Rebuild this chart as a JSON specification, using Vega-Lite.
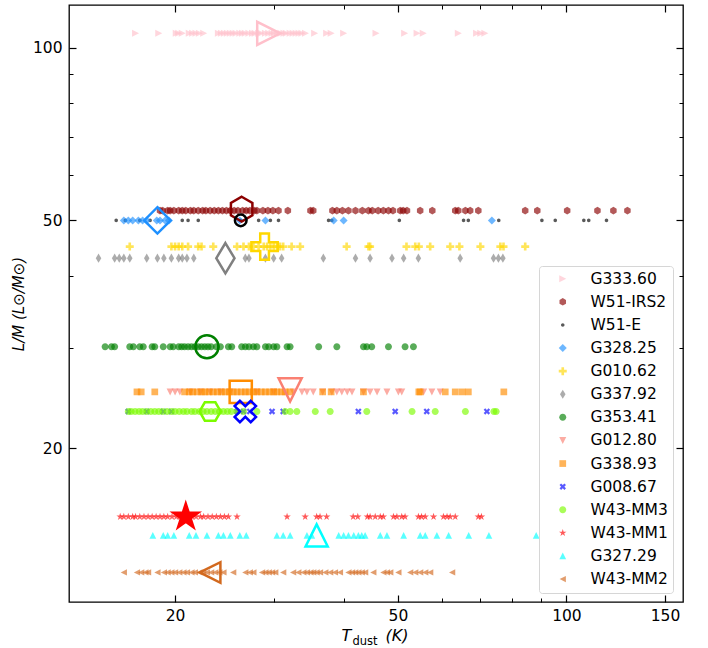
{
"$schema": "https://vega.github.io/schema/vega-lite/v6.json",
"width": 614, "height": 597,
"autosize": {"type": "none"},
"padding": {"left": 69, "top": 5, "right": 25, "bottom": 46},
"background": "white",
"config": {"font": "DejaVu Sans", "view": {"stroke": "black", "strokeWidth": 1.3}},
"datasets": {
"pts": [
{"source":"G333.60","T":17.0,"LM":106},{"source":"G333.60","T":18.7,"LM":106},{"source":"G333.60","T":20.1,"LM":106},{"source":"G333.60","T":20.3,"LM":106},{"source":"G333.60","T":20.6,"LM":106},{"source":"G333.60","T":21.2,"LM":106},{"source":"G333.60","T":21.5,"LM":106},{"source":"G333.60","T":21.8,"LM":106},{"source":"G333.60","T":22.1,"LM":106},{"source":"G333.60","T":22.5,"LM":106},{"source":"G333.60","T":23.9,"LM":106},{"source":"G333.60","T":24.2,"LM":106},{"source":"G333.60","T":24.5,"LM":106},{"source":"G333.60","T":24.8,"LM":106},{"source":"G333.60","T":25.1,"LM":106},{"source":"G333.60","T":25.4,"LM":106},{"source":"G333.60","T":25.7,"LM":106},{"source":"G333.60","T":26.1,"LM":106},{"source":"G333.60","T":26.4,"LM":106},{"source":"G333.60","T":26.7,"LM":106},{"source":"G333.60","T":27.1,"LM":106},{"source":"G333.60","T":27.5,"LM":106},{"source":"G333.60","T":27.8,"LM":106},{"source":"G333.60","T":28.2,"LM":106},{"source":"G333.60","T":28.5,"LM":106},{"source":"G333.60","T":29.0,"LM":106},{"source":"G333.60","T":29.4,"LM":106},{"source":"G333.60","T":29.8,"LM":106},{"source":"G333.60","T":30.1,"LM":106},{"source":"G333.60","T":30.5,"LM":106},{"source":"G333.60","T":30.9,"LM":106},{"source":"G333.60","T":31.3,"LM":106},{"source":"G333.60","T":31.6,"LM":106},{"source":"G333.60","T":32.1,"LM":106},{"source":"G333.60","T":32.5,"LM":106},{"source":"G333.60","T":32.9,"LM":106},{"source":"G333.60","T":33.3,"LM":106},{"source":"G333.60","T":33.7,"LM":106},{"source":"G333.60","T":34.2,"LM":106},{"source":"G333.60","T":35.5,"LM":106},{"source":"G333.60","T":37.3,"LM":106},{"source":"G333.60","T":38.0,"LM":106},{"source":"G333.60","T":40.0,"LM":106},{"source":"G333.60","T":45.7,"LM":106},{"source":"G333.60","T":51.4,"LM":106},{"source":"G333.60","T":54.1,"LM":106},{"source":"G333.60","T":55.5,"LM":106},{"source":"G333.60","T":64.1,"LM":106},{"source":"G333.60","T":69.1,"LM":106},{"source":"G333.60","T":70.3,"LM":106},{"source":"G333.60","T":71.5,"LM":106},
{"source":"W51-IRS2","T":18.8,"LM":52.0},{"source":"W51-IRS2","T":19.0,"LM":52.0},{"source":"W51-IRS2","T":19.4,"LM":52.0},{"source":"W51-IRS2","T":19.6,"LM":52.0},{"source":"W51-IRS2","T":19.9,"LM":52.0},{"source":"W51-IRS2","T":20.3,"LM":52.0},{"source":"W51-IRS2","T":20.6,"LM":52.0},{"source":"W51-IRS2","T":20.9,"LM":52.0},{"source":"W51-IRS2","T":21.3,"LM":52.0},{"source":"W51-IRS2","T":21.6,"LM":52.0},{"source":"W51-IRS2","T":22.0,"LM":52.0},{"source":"W51-IRS2","T":22.4,"LM":52.0},{"source":"W51-IRS2","T":22.7,"LM":52.0},{"source":"W51-IRS2","T":23.1,"LM":52.0},{"source":"W51-IRS2","T":23.5,"LM":52.0},{"source":"W51-IRS2","T":23.9,"LM":52.0},{"source":"W51-IRS2","T":24.3,"LM":52.0},{"source":"W51-IRS2","T":24.7,"LM":52.0},{"source":"W51-IRS2","T":25.1,"LM":52.0},{"source":"W51-IRS2","T":25.5,"LM":52.0},{"source":"W51-IRS2","T":25.9,"LM":52.0},{"source":"W51-IRS2","T":26.4,"LM":52.0},{"source":"W51-IRS2","T":26.8,"LM":52.0},{"source":"W51-IRS2","T":27.2,"LM":52.0},{"source":"W51-IRS2","T":27.7,"LM":52.0},{"source":"W51-IRS2","T":28.0,"LM":52.0},{"source":"W51-IRS2","T":28.7,"LM":52.0},{"source":"W51-IRS2","T":29.3,"LM":52.0},{"source":"W51-IRS2","T":29.9,"LM":52.0},{"source":"W51-IRS2","T":30.6,"LM":52.0},{"source":"W51-IRS2","T":31.8,"LM":52.0},{"source":"W51-IRS2","T":34.9,"LM":52.0},{"source":"W51-IRS2","T":35.3,"LM":52.0},{"source":"W51-IRS2","T":38.2,"LM":52.0},{"source":"W51-IRS2","T":38.9,"LM":52.0},{"source":"W51-IRS2","T":39.8,"LM":52.0},{"source":"W51-IRS2","T":40.8,"LM":52.0},{"source":"W51-IRS2","T":42.0,"LM":52.0},{"source":"W51-IRS2","T":43.2,"LM":52.0},{"source":"W51-IRS2","T":44.3,"LM":52.0},{"source":"W51-IRS2","T":45.0,"LM":52.0},{"source":"W51-IRS2","T":46.1,"LM":52.0},{"source":"W51-IRS2","T":47.1,"LM":52.0},{"source":"W51-IRS2","T":48.1,"LM":52.0},{"source":"W51-IRS2","T":49.0,"LM":52.0},{"source":"W51-IRS2","T":50.5,"LM":52.0},{"source":"W51-IRS2","T":51.1,"LM":52.0},{"source":"W51-IRS2","T":51.9,"LM":52.0},{"source":"W51-IRS2","T":54.8,"LM":52.0},{"source":"W51-IRS2","T":57.6,"LM":52.0},{"source":"W51-IRS2","T":63.3,"LM":52.0},{"source":"W51-IRS2","T":64.1,"LM":52.0},{"source":"W51-IRS2","T":66.0,"LM":52.0},{"source":"W51-IRS2","T":67.3,"LM":52.0},{"source":"W51-IRS2","T":69.6,"LM":52.0},{"source":"W51-IRS2","T":84.4,"LM":52.0},{"source":"W51-IRS2","T":88.7,"LM":52.0},{"source":"W51-IRS2","T":100.3,"LM":52.0},{"source":"W51-IRS2","T":113.6,"LM":52.0},{"source":"W51-IRS2","T":121.3,"LM":52.0},{"source":"W51-IRS2","T":128.5,"LM":52.0},
{"source":"W51-E","T":15.7,"LM":50},{"source":"W51-E","T":16.3,"LM":50},{"source":"W51-E","T":17.3,"LM":50},{"source":"W51-E","T":18.05,"LM":50},{"source":"W51-E","T":20.6,"LM":50},{"source":"W51-E","T":21.1,"LM":50},{"source":"W51-E","T":22.0,"LM":50},{"source":"W51-E","T":26.2,"LM":50},{"source":"W51-E","T":28.2,"LM":50},{"source":"W51-E","T":29.6,"LM":50},{"source":"W51-E","T":30.6,"LM":50},{"source":"W51-E","T":37.6,"LM":50},{"source":"W51-E","T":38.1,"LM":50},{"source":"W51-E","T":50.3,"LM":50},{"source":"W51-E","T":65.5,"LM":50},{"source":"W51-E","T":66.8,"LM":50},{"source":"W51-E","T":75.7,"LM":50},{"source":"W51-E","T":90.4,"LM":50},{"source":"W51-E","T":95.5,"LM":50},{"source":"W51-E","T":107.4,"LM":50},{"source":"W51-E","T":109.6,"LM":50},{"source":"W51-E","T":117.9,"LM":50},
{"source":"G328.25","T":16.2,"LM":50},{"source":"G328.25","T":16.5,"LM":50},{"source":"G328.25","T":16.8,"LM":50},{"source":"G328.25","T":17.2,"LM":50},{"source":"G328.25","T":17.5,"LM":50},{"source":"G328.25","T":17.8,"LM":50},{"source":"G328.25","T":18.55,"LM":50},{"source":"G328.25","T":18.8,"LM":50},{"source":"G328.25","T":19.2,"LM":50},{"source":"G328.25","T":19.5,"LM":50},{"source":"G328.25","T":26.1,"LM":50},{"source":"G328.25","T":29.0,"LM":50},{"source":"G328.25","T":38.4,"LM":50},{"source":"G328.25","T":40.0,"LM":50},{"source":"G328.25","T":73.6,"LM":50},
{"source":"G010.62","T":16.6,"LM":45.0},{"source":"G010.62","T":19.7,"LM":45.0},{"source":"G010.62","T":20.0,"LM":45.0},{"source":"G010.62","T":20.3,"LM":45.0},{"source":"G010.62","T":20.6,"LM":45.0},{"source":"G010.62","T":21.1,"LM":45.0},{"source":"G010.62","T":22.0,"LM":45.0},{"source":"G010.62","T":22.3,"LM":45.0},{"source":"G010.62","T":23.4,"LM":45.0},{"source":"G010.62","T":25.8,"LM":45.0},{"source":"G010.62","T":26.5,"LM":45.0},{"source":"G010.62","T":27.1,"LM":45.0},{"source":"G010.62","T":27.6,"LM":45.0},{"source":"G010.62","T":28.2,"LM":45.0},{"source":"G010.62","T":28.8,"LM":45.0},{"source":"G010.62","T":29.2,"LM":45.0},{"source":"G010.62","T":29.6,"LM":45.0},{"source":"G010.62","T":30.0,"LM":45.0},{"source":"G010.62","T":30.4,"LM":45.0},{"source":"G010.62","T":30.8,"LM":45.0},{"source":"G010.62","T":31.2,"LM":45.0},{"source":"G010.62","T":32.3,"LM":45.0},{"source":"G010.62","T":33.45,"LM":45.0},{"source":"G010.62","T":40.5,"LM":45.0},{"source":"G010.62","T":44.3,"LM":45.0},{"source":"G010.62","T":44.6,"LM":45.0},{"source":"G010.62","T":51.8,"LM":45.0},{"source":"G010.62","T":53.7,"LM":45.0},{"source":"G010.62","T":54.5,"LM":45.0},{"source":"G010.62","T":57.1,"LM":45.0},{"source":"G010.62","T":62.0,"LM":45.0},{"source":"G010.62","T":64.4,"LM":45.0},{"source":"G010.62","T":70.2,"LM":45.0},{"source":"G010.62","T":76.2,"LM":45.0},{"source":"G010.62","T":77.2,"LM":45.0},{"source":"G010.62","T":84.4,"LM":45.0},
{"source":"G337.92","T":14.6,"LM":42.95},{"source":"G337.92","T":15.6,"LM":42.95},{"source":"G337.92","T":15.9,"LM":42.95},{"source":"G337.92","T":16.2,"LM":42.95},{"source":"G337.92","T":16.6,"LM":42.95},{"source":"G337.92","T":17.8,"LM":42.95},{"source":"G337.92","T":18.6,"LM":42.95},{"source":"G337.92","T":19.1,"LM":42.95},{"source":"G337.92","T":19.7,"LM":42.95},{"source":"G337.92","T":20.3,"LM":42.95},{"source":"G337.92","T":20.6,"LM":42.95},{"source":"G337.92","T":21.0,"LM":42.95},{"source":"G337.92","T":21.6,"LM":42.95},{"source":"G337.92","T":26.7,"LM":42.95},{"source":"G337.92","T":27.1,"LM":42.95},{"source":"G337.92","T":29.0,"LM":42.95},{"source":"G337.92","T":30.0,"LM":42.95},{"source":"G337.92","T":31.0,"LM":42.95},{"source":"G337.92","T":36.8,"LM":42.95},{"source":"G337.92","T":42.0,"LM":42.95},{"source":"G337.92","T":44.6,"LM":42.95},{"source":"G337.92","T":48.8,"LM":42.95},{"source":"G337.92","T":51.2,"LM":42.95},{"source":"G337.92","T":54.4,"LM":42.95},{"source":"G337.92","T":64.6,"LM":42.95},{"source":"G337.92","T":74.1,"LM":42.95},{"source":"G337.92","T":75.6,"LM":42.95},{"source":"G337.92","T":77.0,"LM":42.95},
{"source":"G353.41","T":15.0,"LM":30.1},{"source":"G353.41","T":15.4,"LM":30.1},{"source":"G353.41","T":15.6,"LM":30.1},{"source":"G353.41","T":16.6,"LM":30.1},{"source":"G353.41","T":16.85,"LM":30.1},{"source":"G353.41","T":17.3,"LM":30.1},{"source":"G353.41","T":17.55,"LM":30.1},{"source":"G353.41","T":18.2,"LM":30.1},{"source":"G353.41","T":18.4,"LM":30.1},{"source":"G353.41","T":19.05,"LM":30.1},{"source":"G353.41","T":19.6,"LM":30.1},{"source":"G353.41","T":19.85,"LM":30.1},{"source":"G353.41","T":20.3,"LM":30.1},{"source":"G353.41","T":20.55,"LM":30.1},{"source":"G353.41","T":20.8,"LM":30.1},{"source":"G353.41","T":21.1,"LM":30.1},{"source":"G353.41","T":21.4,"LM":30.1},{"source":"G353.41","T":21.7,"LM":30.1},{"source":"G353.41","T":22.0,"LM":30.1},{"source":"G353.41","T":22.3,"LM":30.1},{"source":"G353.41","T":22.6,"LM":30.1},{"source":"G353.41","T":22.9,"LM":30.1},{"source":"G353.41","T":23.2,"LM":30.1},{"source":"G353.41","T":23.7,"LM":30.1},{"source":"G353.41","T":24.1,"LM":30.1},{"source":"G353.41","T":24.9,"LM":30.1},{"source":"G353.41","T":25.25,"LM":30.1},{"source":"G353.41","T":26.3,"LM":30.1},{"source":"G353.41","T":26.7,"LM":30.1},{"source":"G353.41","T":27.1,"LM":30.1},{"source":"G353.41","T":27.6,"LM":30.1},{"source":"G353.41","T":28.0,"LM":30.1},{"source":"G353.41","T":29.0,"LM":30.1},{"source":"G353.41","T":29.4,"LM":30.1},{"source":"G353.41","T":30.0,"LM":30.1},{"source":"G353.41","T":30.4,"LM":30.1},{"source":"G353.41","T":31.7,"LM":30.1},{"source":"G353.41","T":32.1,"LM":30.1},{"source":"G353.41","T":36.1,"LM":30.1},{"source":"G353.41","T":38.9,"LM":30.1},{"source":"G353.41","T":43.4,"LM":30.1},{"source":"G353.41","T":44.0,"LM":30.1},{"source":"G353.41","T":44.9,"LM":30.1},{"source":"G353.41","T":48.1,"LM":30.1},{"source":"G353.41","T":51.5,"LM":30.1},{"source":"G353.41","T":53.3,"LM":30.1},
{"source":"G012.80","T":19.6,"LM":25.1},{"source":"G012.80","T":20.0,"LM":25.1},{"source":"G012.80","T":20.4,"LM":25.1},{"source":"G012.80","T":21.3,"LM":25.1},{"source":"G012.80","T":22.2,"LM":25.1},{"source":"G012.80","T":23.1,"LM":25.1},{"source":"G012.80","T":24.1,"LM":25.1},{"source":"G012.80","T":25.1,"LM":25.1},{"source":"G012.80","T":28.0,"LM":25.1},{"source":"G012.80","T":30.0,"LM":25.1},{"source":"G012.80","T":32.5,"LM":25.1},{"source":"G012.80","T":33.7,"LM":25.1},{"source":"G012.80","T":34.4,"LM":25.1},{"source":"G012.80","T":35.3,"LM":25.1},{"source":"G012.80","T":36.7,"LM":25.1},{"source":"G012.80","T":38.1,"LM":25.1},{"source":"G012.80","T":38.9,"LM":25.1},{"source":"G012.80","T":39.7,"LM":25.1},{"source":"G012.80","T":40.6,"LM":25.1},{"source":"G012.80","T":41.4,"LM":25.1},{"source":"G012.80","T":43.4,"LM":25.1},{"source":"G012.80","T":44.6,"LM":25.1},{"source":"G012.80","T":45.9,"LM":25.1},{"source":"G012.80","T":47.8,"LM":25.1},{"source":"G012.80","T":50.1,"LM":25.1},{"source":"G012.80","T":50.8,"LM":25.1},{"source":"G012.80","T":55.6,"LM":25.1},{"source":"G012.80","T":57.5,"LM":25.1},{"source":"G012.80","T":59.5,"LM":25.1},
{"source":"G338.93","T":17.1,"LM":25.1},{"source":"G338.93","T":17.4,"LM":25.1},{"source":"G338.93","T":18.4,"LM":25.1},{"source":"G338.93","T":20.8,"LM":25.1},{"source":"G338.93","T":21.2,"LM":25.1},{"source":"G338.93","T":21.5,"LM":25.1},{"source":"G338.93","T":21.9,"LM":25.1},{"source":"G338.93","T":22.3,"LM":25.1},{"source":"G338.93","T":22.6,"LM":25.1},{"source":"G338.93","T":23.0,"LM":25.1},{"source":"G338.93","T":23.4,"LM":25.1},{"source":"G338.93","T":23.8,"LM":25.1},{"source":"G338.93","T":24.2,"LM":25.1},{"source":"G338.93","T":24.6,"LM":25.1},{"source":"G338.93","T":25.0,"LM":25.1},{"source":"G338.93","T":25.4,"LM":25.1},{"source":"G338.93","T":25.8,"LM":25.1},{"source":"G338.93","T":26.25,"LM":25.1},{"source":"G338.93","T":26.7,"LM":25.1},{"source":"G338.93","T":27.1,"LM":25.1},{"source":"G338.93","T":27.6,"LM":25.1},{"source":"G338.93","T":28.0,"LM":25.1},{"source":"G338.93","T":28.5,"LM":25.1},{"source":"G338.93","T":29.0,"LM":25.1},{"source":"G338.93","T":29.5,"LM":25.1},{"source":"G338.93","T":30.0,"LM":25.1},{"source":"G338.93","T":30.4,"LM":25.1},{"source":"G338.93","T":31.0,"LM":25.1},{"source":"G338.93","T":31.45,"LM":25.1},{"source":"G338.93","T":32.1,"LM":25.1},{"source":"G338.93","T":36.7,"LM":25.1},{"source":"G338.93","T":38.0,"LM":25.1},{"source":"G338.93","T":43.4,"LM":25.1},{"source":"G338.93","T":54.5,"LM":25.1},{"source":"G338.93","T":54.8,"LM":25.1},{"source":"G338.93","T":60.75,"LM":25.1},{"source":"G338.93","T":63.3,"LM":25.1},{"source":"G338.93","T":65.1,"LM":25.1},{"source":"G338.93","T":66.8,"LM":25.1},{"source":"G338.93","T":77.3,"LM":25.1},
{"source":"G008.67","T":16.5,"LM":23.2},{"source":"G008.67","T":17.8,"LM":23.2},{"source":"G008.67","T":19.05,"LM":23.2},{"source":"G008.67","T":19.7,"LM":23.2},{"source":"G008.67","T":25.8,"LM":23.2},{"source":"G008.67","T":26.5,"LM":23.2},{"source":"G008.67","T":27.2,"LM":23.2},{"source":"G008.67","T":29.8,"LM":23.2},{"source":"G008.67","T":31.2,"LM":23.2},{"source":"G008.67","T":42.5,"LM":23.2},{"source":"G008.67","T":49.45,"LM":23.2},{"source":"G008.67","T":56.3,"LM":23.2},{"source":"G008.67","T":72.1,"LM":23.2},
{"source":"W43-MM3","T":16.5,"LM":23.2},{"source":"W43-MM3","T":16.7,"LM":23.2},{"source":"W43-MM3","T":16.97,"LM":23.2},{"source":"W43-MM3","T":17.25,"LM":23.2},{"source":"W43-MM3","T":17.5,"LM":23.2},{"source":"W43-MM3","T":17.8,"LM":23.2},{"source":"W43-MM3","T":18.1,"LM":23.2},{"source":"W43-MM3","T":18.4,"LM":23.2},{"source":"W43-MM3","T":18.7,"LM":23.2},{"source":"W43-MM3","T":19.0,"LM":23.2},{"source":"W43-MM3","T":19.35,"LM":23.2},{"source":"W43-MM3","T":19.7,"LM":23.2},{"source":"W43-MM3","T":20.0,"LM":23.2},{"source":"W43-MM3","T":20.35,"LM":23.2},{"source":"W43-MM3","T":20.7,"LM":23.2},{"source":"W43-MM3","T":21.0,"LM":23.2},{"source":"W43-MM3","T":21.4,"LM":23.2},{"source":"W43-MM3","T":21.7,"LM":23.2},{"source":"W43-MM3","T":22.1,"LM":23.2},{"source":"W43-MM3","T":22.45,"LM":23.2},{"source":"W43-MM3","T":22.8,"LM":23.2},{"source":"W43-MM3","T":23.2,"LM":23.2},{"source":"W43-MM3","T":23.6,"LM":23.2},{"source":"W43-MM3","T":24.0,"LM":23.2},{"source":"W43-MM3","T":24.4,"LM":23.2},{"source":"W43-MM3","T":24.8,"LM":23.2},{"source":"W43-MM3","T":25.2,"LM":23.2},{"source":"W43-MM3","T":25.8,"LM":23.2},{"source":"W43-MM3","T":26.5,"LM":23.2},{"source":"W43-MM3","T":28.0,"LM":23.2},{"source":"W43-MM3","T":31.45,"LM":23.2},{"source":"W43-MM3","T":32.1,"LM":23.2},{"source":"W43-MM3","T":33.0,"LM":23.2},{"source":"W43-MM3","T":35.6,"LM":23.2},{"source":"W43-MM3","T":37.85,"LM":23.2},{"source":"W43-MM3","T":44.0,"LM":23.2},{"source":"W43-MM3","T":53.0,"LM":23.2},{"source":"W43-MM3","T":58.3,"LM":23.2},{"source":"W43-MM3","T":66.0,"LM":23.2},{"source":"W43-MM3","T":74.2,"LM":23.2},{"source":"W43-MM3","T":74.9,"LM":23.2},
{"source":"W43-MM1","T":15.96,"LM":15.2},{"source":"W43-MM1","T":16.2,"LM":15.2},{"source":"W43-MM1","T":16.5,"LM":15.2},{"source":"W43-MM1","T":16.8,"LM":15.2},{"source":"W43-MM1","T":17.0,"LM":15.2},{"source":"W43-MM1","T":17.3,"LM":15.2},{"source":"W43-MM1","T":17.6,"LM":15.2},{"source":"W43-MM1","T":17.9,"LM":15.2},{"source":"W43-MM1","T":18.2,"LM":15.2},{"source":"W43-MM1","T":18.5,"LM":15.2},{"source":"W43-MM1","T":18.8,"LM":15.2},{"source":"W43-MM1","T":19.1,"LM":15.2},{"source":"W43-MM1","T":19.4,"LM":15.2},{"source":"W43-MM1","T":19.75,"LM":15.2},{"source":"W43-MM1","T":20.1,"LM":15.2},{"source":"W43-MM1","T":20.4,"LM":15.2},{"source":"W43-MM1","T":20.75,"LM":15.2},{"source":"W43-MM1","T":21.1,"LM":15.2},{"source":"W43-MM1","T":21.45,"LM":15.2},{"source":"W43-MM1","T":21.8,"LM":15.2},{"source":"W43-MM1","T":22.2,"LM":15.2},{"source":"W43-MM1","T":22.5,"LM":15.2},{"source":"W43-MM1","T":22.9,"LM":15.2},{"source":"W43-MM1","T":23.3,"LM":15.2},{"source":"W43-MM1","T":23.7,"LM":15.2},{"source":"W43-MM1","T":24.1,"LM":15.2},{"source":"W43-MM1","T":24.5,"LM":15.2},{"source":"W43-MM1","T":24.9,"LM":15.2},{"source":"W43-MM1","T":25.8,"LM":15.2},{"source":"W43-MM1","T":31.7,"LM":15.2},{"source":"W43-MM1","T":34.15,"LM":15.2},{"source":"W43-MM1","T":35.8,"LM":15.2},{"source":"W43-MM1","T":36.3,"LM":15.2},{"source":"W43-MM1","T":37.3,"LM":15.2},{"source":"W43-MM1","T":41.6,"LM":15.2},{"source":"W43-MM1","T":42.4,"LM":15.2},{"source":"W43-MM1","T":44.1,"LM":15.2},{"source":"W43-MM1","T":44.6,"LM":15.2},{"source":"W43-MM1","T":45.55,"LM":15.2},{"source":"W43-MM1","T":46.5,"LM":15.2},{"source":"W43-MM1","T":47.1,"LM":15.2},{"source":"W43-MM1","T":49.1,"LM":15.2},{"source":"W43-MM1","T":49.8,"LM":15.2},{"source":"W43-MM1","T":50.8,"LM":15.2},{"source":"W43-MM1","T":51.5,"LM":15.2},{"source":"W43-MM1","T":54.4,"LM":15.2},{"source":"W43-MM1","T":55.1,"LM":15.2},{"source":"W43-MM1","T":55.95,"LM":15.2},{"source":"W43-MM1","T":57.9,"LM":15.2},{"source":"W43-MM1","T":60.3,"LM":15.2},{"source":"W43-MM1","T":61.2,"LM":15.2},{"source":"W43-MM1","T":62.0,"LM":15.2},{"source":"W43-MM1","T":63.3,"LM":15.2},{"source":"W43-MM1","T":69.6,"LM":15.2},{"source":"W43-MM1","T":70.5,"LM":15.2},
{"source":"G327.29","T":18.25,"LM":14.1},{"source":"G327.29","T":19.05,"LM":14.1},{"source":"G327.29","T":19.4,"LM":14.1},{"source":"G327.29","T":19.9,"LM":14.1},{"source":"G327.29","T":21.2,"LM":14.1},{"source":"G327.29","T":21.8,"LM":14.1},{"source":"G327.29","T":22.8,"LM":14.1},{"source":"G327.29","T":23.9,"LM":14.1},{"source":"G327.29","T":24.4,"LM":14.1},{"source":"G327.29","T":25.1,"LM":14.1},{"source":"G327.29","T":26.1,"LM":14.1},{"source":"G327.29","T":26.8,"LM":14.1},{"source":"G327.29","T":30.4,"LM":14.1},{"source":"G327.29","T":31.2,"LM":14.1},{"source":"G327.29","T":32.1,"LM":14.1},{"source":"G327.29","T":34.4,"LM":14.1},{"source":"G327.29","T":35.1,"LM":14.1},{"source":"G327.29","T":39.2,"LM":14.1},{"source":"G327.29","T":40.0,"LM":14.1},{"source":"G327.29","T":40.8,"LM":14.1},{"source":"G327.29","T":41.7,"LM":14.1},{"source":"G327.29","T":42.5,"LM":14.1},{"source":"G327.29","T":43.1,"LM":14.1},{"source":"G327.29","T":43.7,"LM":14.1},{"source":"G327.29","T":46.5,"LM":14.1},{"source":"G327.29","T":47.8,"LM":14.1},{"source":"G327.29","T":51.2,"LM":14.1},{"source":"G327.29","T":54.8,"LM":14.1},{"source":"G327.29","T":55.95,"LM":14.1},{"source":"G327.29","T":58.7,"LM":14.1},{"source":"G327.29","T":61.6,"LM":14.1},{"source":"G327.29","T":66.9,"LM":14.1},{"source":"G327.29","T":72.7,"LM":14.1},{"source":"G327.29","T":88.3,"LM":14.1},
{"source":"W43-MM2","T":16.2,"LM":12.15},{"source":"W43-MM2","T":17.1,"LM":12.15},{"source":"W43-MM2","T":17.4,"LM":12.15},{"source":"W43-MM2","T":17.7,"LM":12.15},{"source":"W43-MM2","T":17.9,"LM":12.15},{"source":"W43-MM2","T":18.6,"LM":12.15},{"source":"W43-MM2","T":19.1,"LM":12.15},{"source":"W43-MM2","T":19.4,"LM":12.15},{"source":"W43-MM2","T":19.7,"LM":12.15},{"source":"W43-MM2","T":20.0,"LM":12.15},{"source":"W43-MM2","T":20.35,"LM":12.15},{"source":"W43-MM2","T":20.7,"LM":12.15},{"source":"W43-MM2","T":21.0,"LM":12.15},{"source":"W43-MM2","T":21.4,"LM":12.15},{"source":"W43-MM2","T":21.7,"LM":12.15},{"source":"W43-MM2","T":22.1,"LM":12.15},{"source":"W43-MM2","T":22.45,"LM":12.15},{"source":"W43-MM2","T":22.8,"LM":12.15},{"source":"W43-MM2","T":23.2,"LM":12.15},{"source":"W43-MM2","T":23.6,"LM":12.15},{"source":"W43-MM2","T":24.0,"LM":12.15},{"source":"W43-MM2","T":24.4,"LM":12.15},{"source":"W43-MM2","T":25.4,"LM":12.15},{"source":"W43-MM2","T":26.7,"LM":12.15},{"source":"W43-MM2","T":27.2,"LM":12.15},{"source":"W43-MM2","T":27.6,"LM":12.15},{"source":"W43-MM2","T":28.6,"LM":12.15},{"source":"W43-MM2","T":29.0,"LM":12.15},{"source":"W43-MM2","T":29.4,"LM":12.15},{"source":"W43-MM2","T":29.8,"LM":12.15},{"source":"W43-MM2","T":30.2,"LM":12.15},{"source":"W43-MM2","T":31.2,"LM":12.15},{"source":"W43-MM2","T":32.5,"LM":12.15},{"source":"W43-MM2","T":33.2,"LM":12.15},{"source":"W43-MM2","T":33.9,"LM":12.15},{"source":"W43-MM2","T":34.4,"LM":12.15},{"source":"W43-MM2","T":34.9,"LM":12.15},{"source":"W43-MM2","T":35.3,"LM":12.15},{"source":"W43-MM2","T":35.8,"LM":12.15},{"source":"W43-MM2","T":36.3,"LM":12.15},{"source":"W43-MM2","T":37.1,"LM":12.15},{"source":"W43-MM2","T":37.85,"LM":12.15},{"source":"W43-MM2","T":38.6,"LM":12.15},{"source":"W43-MM2","T":39.4,"LM":12.15},{"source":"W43-MM2","T":40.8,"LM":12.15},{"source":"W43-MM2","T":41.4,"LM":12.15},{"source":"W43-MM2","T":41.95,"LM":12.15},{"source":"W43-MM2","T":42.5,"LM":12.15},{"source":"W43-MM2","T":43.1,"LM":12.15},{"source":"W43-MM2","T":43.7,"LM":12.15},{"source":"W43-MM2","T":45.2,"LM":12.15},{"source":"W43-MM2","T":47.1,"LM":12.15},{"source":"W43-MM2","T":47.8,"LM":12.15},{"source":"W43-MM2","T":48.45,"LM":12.15},{"source":"W43-MM2","T":50.1,"LM":12.15},{"source":"W43-MM2","T":52.6,"LM":12.15},{"source":"W43-MM2","T":53.7,"LM":12.15},{"source":"W43-MM2","T":54.8,"LM":12.15},{"source":"W43-MM2","T":55.95,"LM":12.15},{"source":"W43-MM2","T":57.1,"LM":12.15},{"source":"W43-MM2","T":62.5,"LM":12.15}
],
"med": [
{"source":"G333.60","T":29.4,"LM":106},
{"source":"W51-IRS2","T":26.3,"LM":52.3},
{"source":"W51-E","T":26.2,"LM":50},
{"source":"G328.25","T":18.6,"LM":50},
{"source":"G010.62","T":28.9,"LM":45.0},
{"source":"G337.92","T":24.6,"LM":42.95},
{"source":"G353.41","T":22.8,"LM":30.1},
{"source":"G012.80","T":32.1,"LM":25.3},
{"source":"G338.93","T":26.2,"LM":25.1},
{"source":"G008.67","T":26.7,"LM":23.2},
{"source":"W43-MM3","T":23.1,"LM":23.2},
{"source":"W43-MM1","T":20.9,"LM":15.2},
{"source":"G327.29","T":35.8,"LM":14.1},
{"source":"W43-MM2","T":23.1,"LM":12.15}
]
},
"resolve": {"axis": {"x": "independent", "y": "independent"}},
"layer": [
{
"data": {"values": []},
"mark": {"type": "point", "opacity": 0},
"encoding": {
"x": {"field": "T", "type": "quantitative", "scale": {"type": "log", "domain": [12.93, 161.5], "nice": false},
 "axis": {"orient": "bottom", "values": [20, 50, 100, 150], "format": "d", "domain": false, "grid": false, "tickSize": -7, "tickWidth": 1.2, "tickColor": "black", "labelFontSize": 15.5, "labelColor": "black", "labelPadding": 13, "labelFlush": false, "labelOverlap": false,
 "title": "T", "titleFontSize": 16, "titleFontStyle": "italic", "titleFontWeight": "normal", "titleColor": "black", "titleAlign": "left", "titleBaseline": "alphabetic", "titleX": 272, "titleY": 38, "titleAnchor": null}},
"y": {"field": "LM", "type": "quantitative", "scale": {"type": "log", "domain": [10.79, 118.8], "nice": false},
 "axis": {"orient": "left", "values": [20, 50, 100], "format": "d", "domain": false, "grid": false, "tickSize": -7, "tickWidth": 1.2, "tickColor": "black", "labelFontSize": 15.5, "labelColor": "black", "labelPadding": 14, "labelFlush": false, "labelOverlap": false,
 "title": "L/M (L⊙/M⊙)", "titleFontSize": 15, "titleFontStyle": "italic", "titleFontWeight": "normal", "titleColor": "black", "titlePadding": 6}}
}
},
{
"data": {"values": []},
"mark": {"type": "point", "opacity": 0},
"encoding": {
"x": {"field": "T", "type": "quantitative", "scale": {"type": "log", "domain": [12.93, 161.5], "nice": false},
 "axis": {"orient": "bottom", "values": [30, 40, 60, 70, 80, 90], "labels": false, "domain": false, "grid": false, "tickSize": -4, "tickWidth": 1, "tickColor": "black",
 "title": "dust", "titleFontSize": 11.5, "titleFontWeight": "normal", "titleColor": "black", "titleAlign": "left", "titleBaseline": "alphabetic", "titleX": 283, "titleY": 42}},
"y": {"field": "LM", "type": "quantitative", "scale": {"type": "log", "domain": [10.79, 118.8], "nice": false},
 "axis": {"orient": "left", "values": [30, 40, 60, 70, 80, 90], "labels": false, "domain": false, "grid": false, "tickSize": -4, "tickWidth": 1, "tickColor": "black", "title": null}}
}
},
{
"data": {"values": []},
"mark": {"type": "point", "opacity": 0},
"encoding": {
"x": {"field": "T", "type": "quantitative", "scale": {"type": "log", "domain": [12.93, 161.5], "nice": false},
 "axis": {"orient": "top", "values": [20, 50, 100, 150], "labels": false, "domain": false, "grid": false, "tickSize": -7, "tickWidth": 1.2, "tickColor": "black",
 "title": "(K)", "titleFontSize": 16, "titleFontStyle": "italic", "titleFontWeight": "normal", "titleColor": "black", "titleAlign": "left", "titleBaseline": "alphabetic", "titleX": 316, "titleY": 635}},
"y": {"field": "LM", "type": "quantitative", "scale": {"type": "log", "domain": [10.79, 118.8], "nice": false},
 "axis": {"orient": "right", "values": [20, 50, 100], "labels": false, "domain": false, "grid": false, "tickSize": -7, "tickWidth": 1.2, "tickColor": "black", "title": null}}
}
},
{
"data": {"values": []},
"mark": {"type": "point", "opacity": 0},
"encoding": {
"x": {"field": "T", "type": "quantitative", "scale": {"type": "log", "domain": [12.93, 161.5], "nice": false},
 "axis": {"orient": "top", "values": [30, 40, 60, 70, 80, 90], "labels": false, "domain": false, "grid": false, "tickSize": -4, "tickWidth": 1, "tickColor": "black", "title": null}},
"y": {"field": "LM", "type": "quantitative", "scale": {"type": "log", "domain": [10.79, 118.8], "nice": false},
 "axis": {"orient": "right", "values": [30, 40, 60, 70, 80, 90], "labels": false, "domain": false, "grid": false, "tickSize": -4, "tickWidth": 1, "tickColor": "black", "title": null}}
}
},
{
"data": {"name": "pts"},
"mark": {"type": "point", "filled": true, "size": 64, "opacity": 0.65, "strokeWidth": 0},
"encoding": {
"x": {"field": "T", "type": "quantitative", "scale": {"type": "log", "domain": [12.93, 161.5], "nice": false}, "axis": null},
"y": {"field": "LM", "type": "quantitative", "scale": {"type": "log", "domain": [10.79, 118.8], "nice": false}, "axis": null},
"color": {"field": "source", "type": "nominal",
 "scale": {"domain": ["G333.60","W51-IRS2","W51-E","G328.25","G010.62","G337.92","G353.41","G012.80","G338.93","G008.67","W43-MM3","W43-MM1","G327.29","W43-MM2"],
  "range": ["#FFC0CB","#8B0000","#000000","#1E90FF","#FFD700","#808080","#008000","#FA8072","#FF8C00","#0000FF","#7CFC00","#FF0000","#00FFFF","#D2691E"]},
 "legend": {"title": null, "orient": "none", "legendX": 470, "legendY": 261, "padding": 5, "symbolOffset": 11, "labelOffset": 20, "rowPadding": 6.1, "labelFontSize": 15.5, "labelColor": "black", "labelFont": "DejaVu Sans", "symbolSize": 64, "symbolOpacity": 0.65, "symbolStrokeWidth": 0, "strokeColor": "#d6d6d6", "fillColor": "white", "cornerRadius": 3}},
"shape": {"field": "source", "type": "nominal",
 "scale": {"domain": ["G333.60","W51-IRS2","W51-E","G328.25","G010.62","G337.92","G353.41","G012.80","G338.93","G008.67","W43-MM3","W43-MM1","G327.29","W43-MM2"],
  "range": [
   "M0.875,0L-0.875,-0.875L-0.875,0.875Z",
   "M0,-0.94L0.814,-0.47L0.814,0.47L0,0.94L-0.814,0.47L-0.814,-0.47Z",
   "M0.44,0C0.44,0.243,0.243,0.44,0,0.44C-0.243,0.44,-0.44,0.243,-0.44,0C-0.44,-0.243,-0.243,-0.44,0,-0.44C0.243,-0.44,0.44,-0.243,0.44,0Z",
   "M0,-1L1,0L0,1L-1,0Z",
   "M-0.33,-1L0.33,-1L0.33,-0.33L1,-0.33L1,0.33L0.33,0.33L0.33,1L-0.33,1L-0.33,0.33L-1,0.33L-1,-0.33L-0.33,-0.33Z",
   "M0,-1.15L0.69,0L0,1.15L-0.69,0Z",
   "M0.875,0C0.875,0.483,0.483,0.875,0,0.875C-0.483,0.875,-0.875,0.483,-0.875,0C-0.875,-0.483,-0.483,-0.875,0,-0.875C0.483,-0.875,0.875,-0.483,0.875,0Z",
   "M0,0.875L0.875,-0.875L-0.875,-0.875Z",
   "M-0.84,-0.84L0.84,-0.84L0.84,0.84L-0.84,0.84Z",
   "M0.41,-0.81L0.81,-0.41L0.4,0L0.81,0.41L0.41,0.81L0,0.4L-0.41,0.81L-0.81,0.41L-0.4,0L-0.81,-0.41L-0.41,-0.81L0,-0.4Z",
   "M0.875,0C0.875,0.483,0.483,0.875,0,0.875C-0.483,0.875,-0.875,0.483,-0.875,0C-0.875,-0.483,-0.483,-0.875,0,-0.875C0.483,-0.875,0.875,-0.483,0.875,0Z",
   "M0,-0.99L0.222,-0.306L0.941,-0.306L0.359,0.117L0.582,0.801L0,0.378L-0.582,0.801L-0.359,0.117L-0.941,-0.306L-0.222,-0.306Z",
   "M0,-0.84L0.84,0.84L-0.84,0.84Z",
   "M-0.78,0L0.78,-0.78L0.78,0.78Z"
  ]},
 "legend": {"title": null, "orient": "none", "legendX": 470, "legendY": 261, "padding": 5, "symbolOffset": 11, "labelOffset": 20, "rowPadding": 6.1, "labelFontSize": 15.5, "labelColor": "black", "labelFont": "DejaVu Sans", "symbolSize": 64, "symbolOpacity": 0.65, "symbolStrokeWidth": 0, "strokeColor": "#d6d6d6", "fillColor": "white", "cornerRadius": 3}}
}
},
{
"data": {"name": "med"},
"mark": {"type": "point", "filled": false, "size": 697, "opacity": 1, "strokeWidth": 2.5},
"encoding": {
"x": {"field": "T", "type": "quantitative", "scale": {"type": "log", "domain": [12.93, 161.5], "nice": false}, "axis": null},
"y": {"field": "LM", "type": "quantitative", "scale": {"type": "log", "domain": [10.79, 118.8], "nice": false}, "axis": null},
"color": {"field": "source", "type": "nominal", "legend": null},
"shape": {"condition": {"test": "datum.source === 'W43-MM3'", "value": "M-0.8,0L-0.4,-0.693L0.4,-0.693L0.8,0L0.4,0.693L-0.4,0.693Z"}, "field": "source", "type": "nominal", "legend": null},
"fill": {"condition": {"test": "datum.source === 'W43-MM1'", "value": "#FF0000"}, "value": "transparent"}
}
}
]
}
